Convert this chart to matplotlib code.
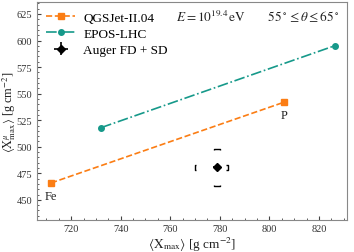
import matplotlib
matplotlib.use('Agg')
import matplotlib.pyplot as plt
from matplotlib.ticker import AutoMinorLocator

plt.rcParams['font.family'] = ['Liberation Serif', 'DejaVu Serif']
plt.rcParams['mathtext.fontset'] = 'stix'

# ---------------------- Data ---------------------- #
primaries = ['Fe', 'P']
qgsjet_xmax = [711.9, 806.0]
qgsjet_xmu = [465.9, 542.0]
epos_xmax = [732.1, 826.5]
epos_xmu = [518.0, 595.2]

auger_xmax = 778.8
auger_xmu = 480.5
auger_stat_x = 1.5
auger_stat_y = 2.0
auger_sys_x = [9.0, 4.6]    # lower, upper
auger_sys_y = [17.0, 17.5]  # lower, upper

ORANGE = '#fb7d14'
TEAL = '#16998a'

fig = plt.figure(figsize=(3.54, 2.53), dpi=100)
ax = fig.add_axes([0.105, 0.128, 0.875, 0.859])

ax.plot(qgsjet_xmax, qgsjet_xmu, color=ORANGE, linestyle='--', marker='s',
        markersize=4, linewidth=1.2, label='QGSJet-II.04')
ax.plot(epos_xmax, epos_xmu, color=TEAL, linestyle='-.', marker='o',
        markersize=4, linewidth=1.2, label='EPOS-LHC')
ax.errorbar([auger_xmax], [auger_xmu], xerr=auger_stat_x, yerr=auger_stat_y,
            fmt='D', color='black', markersize=4, elinewidth=1.2,
            label='Auger FD + SD')

# systematic brackets
bw = 1.1   # half width of horizontal brackets (x units)
bh = 2.2   # half height of vertical brackets (y units)
tx = 0.7   # tick length in x units
ty = 0.9   # tick length in y units
lo_x = auger_xmax - auger_sys_x[0]
hi_x = auger_xmax + auger_sys_x[1]
lo_y = auger_xmu - auger_sys_y[0]
hi_y = auger_xmu + auger_sys_y[1]
kw = dict(color='black', linewidth=1.0, solid_capstyle='butt')
ax.plot([lo_x + tx, lo_x, lo_x, lo_x + tx],
        [auger_xmu - bh, auger_xmu - bh, auger_xmu + bh, auger_xmu + bh], **kw)
ax.plot([hi_x - tx, hi_x, hi_x, hi_x - tx],
        [auger_xmu - bh, auger_xmu - bh, auger_xmu + bh, auger_xmu + bh], **kw)
ax.plot([auger_xmax - bw, auger_xmax - bw, auger_xmax + bw, auger_xmax + bw],
        [hi_y - ty, hi_y, hi_y, hi_y - ty], **kw)
ax.plot([auger_xmax - bw, auger_xmax - bw, auger_xmax + bw, auger_xmax + bw],
        [lo_y + ty, lo_y, lo_y, lo_y + ty], **kw)

for name, x, y in zip(primaries, qgsjet_xmax, qgsjet_xmu):
    ax.annotate(name, (x, y), xytext=(0, -5), textcoords='offset points',
                ha='center', va='top', fontsize=9, color='#222222')

ax.text(0.975, 0.975,
        r'$E = 10^{19.4}\,\mathrm{eV}$       $55^\circ \leq \theta \leq 65^\circ$',
        transform=ax.transAxes, ha='right', va='top', fontsize=9.5,
        color='#222222')

ax.set_xlim(706.3, 831.3)
ax.set_ylim(431.4, 636)
ax.set_xticks([720, 740, 760, 780, 800, 820])
ax.set_yticks([450, 475, 500, 525, 550, 575, 600, 625])
ax.xaxis.set_minor_locator(AutoMinorLocator(4))
ax.yaxis.set_minor_locator(AutoMinorLocator(5))
ax.tick_params(which='both', direction='in', labelsize=7.5, colors='#444444',
               labelcolor='#333333')
ax.tick_params(which='major', length=3)
ax.tick_params(which='minor', length=1.5)
for s in ax.spines.values():
    s.set_color('#888888')
    s.set_linewidth(0.8)

ax.set_xlabel(r'$\langle \mathrm{X}_{\mathrm{max}} \rangle$ [g cm$^{-2}$]',
              fontsize=9.5, labelpad=1, color='#222222')
ax.set_ylabel(r'$\langle \mathrm{X}^{\mu}_{\mathrm{max}} \rangle$ [g cm$^{-2}$]',
              fontsize=8.8, color='#222222')
ax.yaxis.set_label_coords(-0.062, 0.5)

leg = ax.legend(loc='upper left', frameon=False, fontsize=9.5,
                handlelength=2.2, borderaxespad=0.3, labelspacing=0.3,
                handletextpad=0.6)

fig.savefig('out.png', dpi=100)
